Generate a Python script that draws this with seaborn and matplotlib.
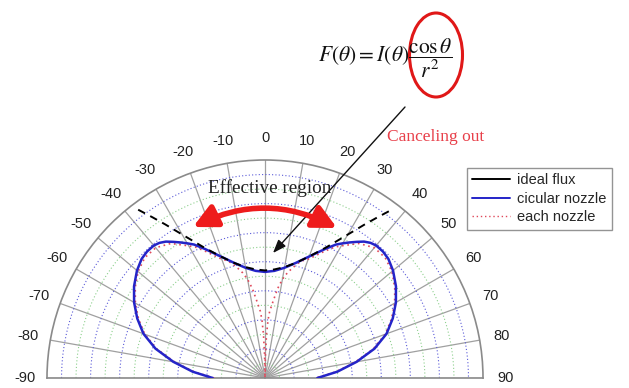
import numpy as np
import pandas as pd
import matplotlib
matplotlib.use("Agg")
import matplotlib.pyplot as plt
from matplotlib.patches import Ellipse
from matplotlib.lines import Line2D
from matplotlib.ticker import FixedLocator
import seaborn as sns

# ---- data (half side, mirrored) ----
blue_deg = [0, 5, 10, 15, 20, 25, 28, 30, 32, 34, 36, 38, 40, 43, 46, 50, 55, 60, 65, 70, 75, 80, 85, 90]
blue_r = [0.73, 0.74, 0.77, 0.82, 0.89, 0.98, 1.04, 1.07, 1.10, 1.13, 1.16, 1.18, 1.19, 1.19, 1.18,
          1.15, 1.10, 1.04, 0.97, 0.89, 0.78, 0.64, 0.50, 0.36]

ideal_deg = [0, 5, 10, 15, 20, 25, 30, 33, 35, 37]
ideal_r = [0.74, 0.75, 0.775, 0.82, 0.89, 0.99, 1.14, 1.26, 1.35, 1.45]

red_deg = [0, 1, 2, 3, 4, 6, 8, 10, 12, 14, 16, 18, 20, 25, 28, 30, 35, 40, 45, 50, 55, 60, 65, 70, 75, 80, 85, 90]
red_r = [0.0, 0.16, 0.30, 0.40, 0.46, 0.53, 0.62, 0.69, 0.74, 0.78, 0.82, 0.85, 0.87, 0.96, 1.02, 1.05,
         1.13, 1.17, 1.17, 1.14, 1.09, 1.03, 0.96, 0.88, 0.77, 0.63, 0.49, 0.35]

tick_deg = list(range(-90, 91, 10))
tick_labels = [str(d) for d in tick_deg]
minor_deg = list(range(-85, 90, 10))
series_names = ["ideal flux", "cicular nozzle", "each nozzle"]


def mirror(deg, r):
    d = [-x for x in deg[::-1]] + deg[1:]
    rr = r[::-1] + r[1:]
    return pd.DataFrame({"theta": np.deg2rad(d), "r": rr})


sns.set_style("white")
plt.rcParams["font.family"] = ["Liberation Sans", "DejaVu Sans"]
plt.rcParams["mathtext.fontset"] = "stix"

fig = plt.figure(figsize=(6.29, 3.88), dpi=100)
# square box; the half-disc is centred vertically inside it
ax = fig.add_axes([47 / 629, -99 / 388, 436 / 629, 436 / 388], projection="polar")
ax.set_theta_zero_location("N")
ax.set_theta_direction(-1)
ax.set_thetamin(-90)
ax.set_thetamax(90)
ax.set_rlim(0, 1.5)

# radial grid: blue dotted majors, green dotted minors
ax.set_yticks([0.2, 0.4, 0.6, 0.8, 1.0, 1.2, 1.4])
ax.set_yticks([0.1, 0.3, 0.5, 0.7, 0.9, 1.1, 1.3], minor=True)
ax.set_yticklabels([])
ax.yaxis.grid(True, which="major", color="#5a5ad8", linestyle=(0, (1, 2)), linewidth=0.8)
ax.yaxis.grid(True, which="minor", color="#8ccf8c", linestyle=(0, (1, 2)), linewidth=0.8)
ax.tick_params(axis="y", which="both", length=0)

ax.set_thetagrids(tick_deg, labels=tick_labels)
ax.xaxis.set_minor_locator(FixedLocator(np.deg2rad(minor_deg)))
ax.xaxis.grid(True, which="major", color="#a0a0a0", linestyle="-", linewidth=0.9)
ax.xaxis.grid(False, which="minor")
ax.tick_params(axis="x", which="major", direction="in", length=6, color="#808080", pad=9,
               labelsize=10.5, labelcolor="#222222")
ax.tick_params(axis="x", which="minor", direction="in", length=4, color="#808080")
for s in ax.spines.values():
    s.set_color("#8a8a8a")
    s.set_linewidth(1.2)

red_df = mirror(red_deg, red_r)
blue_df = mirror(blue_deg, blue_r)
ideal_df = mirror(ideal_deg, ideal_r)

sns.lineplot(data=red_df, x="theta", y="r", sort=False, ax=ax, color="#e0485a",
             linestyle=(0, (1, 2.2)), linewidth=1.2, zorder=3)
sns.lineplot(data=blue_df, x="theta", y="r", sort=False, ax=ax, color="#2424c8",
             linewidth=1.8, zorder=4)
sns.lineplot(data=ideal_df, x="theta", y="r", sort=False, ax=ax, color="black",
             linestyle=(0, (4, 3)), linewidth=1.4, zorder=5)
ax.set_xlabel("")
ax.set_ylabel("")

handles = [Line2D([], [], color="black", lw=1.4),
           Line2D([], [], color="#2424c8", lw=1.4),
           Line2D([], [], color="#e0485a", lw=1.0, linestyle=(0, (1, 2)))]
leg = fig.legend(handles, series_names, loc="upper left", bbox_to_anchor=(0.742, 0.567),
                 fontsize=10.5, frameon=True, fancybox=False, handlelength=2.6,
                 labelspacing=0.32, borderpad=0.35, handletextpad=0.5, borderaxespad=0)
leg.get_frame().set_edgecolor("#7a7a7a")
leg.get_frame().set_linewidth(1.0)

# annotations
fig.text(318 / 629, 1 - 58 / 388, r"$F(\theta)=I(\theta)\dfrac{\cos\theta}{r^2}$",
         fontsize=15.5, ha="left", va="center", color="#111111")
fig.patches.append(Ellipse((436 / 629, 1 - 55 / 388), 53 / 629, 84 / 388,
                           transform=fig.transFigure, fill=False, edgecolor="#e01818", lw=2.2))
fig.text(387 / 629, 1 - 137 / 388, "Canceling out", color="#e8404a",
         family=["Liberation Serif", "DejaVu Serif"], fontsize=12.5, ha="left", va="center")
fig.text(208 / 629, 1 - 188 / 388, "Effective region", color="#222222",
         family=["Liberation Serif", "DejaVu Serif"], fontsize=13.8, ha="left", va="center")

ax.annotate("", xy=(273 / 629, 1 - 253 / 388), xycoords="figure fraction",
            xytext=(405 / 629, 1 - 107 / 388), textcoords="figure fraction",
            arrowprops=dict(arrowstyle="-|>,head_length=0.8,head_width=0.3", color="#111111",
                            lw=1.0, shrinkA=0, shrinkB=0), zorder=10)
ax.annotate("", xy=(337 / 629, 1 - 228 / 388), xycoords="figure fraction",
            xytext=(193 / 629, 1 - 227 / 388), textcoords="figure fraction",
            arrowprops=dict(arrowstyle="<|-|>,head_length=1.4,head_width=0.7", color="#ee1c1c",
                            lw=4, shrinkA=0, shrinkB=0, connectionstyle="arc3,rad=-0.25"),
            zorder=10)

fig.savefig("out.png", dpi=100)
